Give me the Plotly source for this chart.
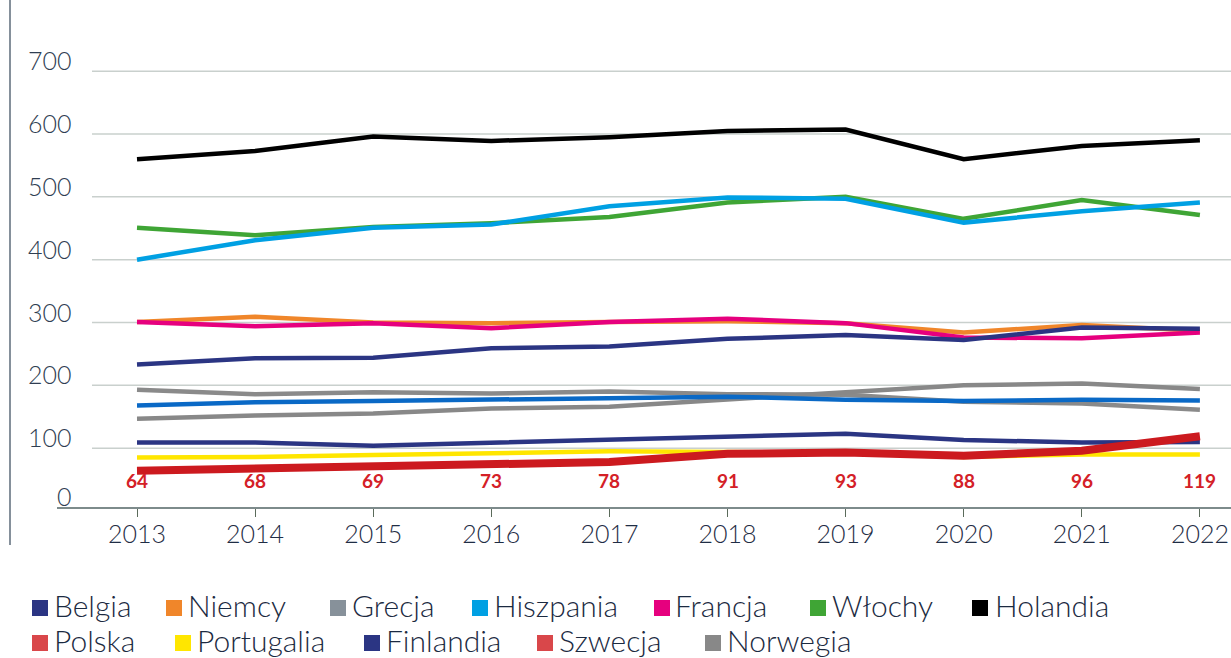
import plotly.graph_objects as go

# ---------------- data ----------------
years = [2013, 2014, 2015, 2016, 2017, 2018, 2019, 2020, 2021, 2022]

belgia     = [233, 243, 244, 259, 262, 274, 280, 272, 292, 290]
niemcy     = [301, 309, 300, 299, 301, 302, 299, 284, 296, 287]
grecja     = [193, 186, 189, 187, 190, 186, 185, 174, 171, 161]
hiszpania  = [400, 431, 451, 456, 485, 499, 497, 459, 477, 491]
francja    = [301, 294, 299, 291, 301, 306, 299, 276, 275, 284]
wlochy     = [451, 439, 452, 458, 468, 491, 500, 465, 495, 471]
holandia   = [560, 573, 596, 589, 595, 605, 607, 560, 581, 590]
polska     = [64, 68, 69, 73, 78, 91, 93, 88, 96, 119]
portugalia = [85, 86, 89, 92, 95, 94, 92, 86, 90, 90]
finlandia  = [109, 109, 104, 109, 114, 119, 123, 113, 109, 110]
szwecja    = [168, 173, 175, 177, 179, 182, 177, 175, 177, 176]
norwegia   = [147, 152, 155, 163, 166, 178, 189, 200, 203, 194]

y_ticks = [0, 100, 200, 300, 400, 500, 600, 700]

# legend: (name, square colour)
legend_row1 = [("Belgia", "#2b3583"), ("Niemcy", "#f0862a"), ("Grecja", "#87919a"),
               ("Hiszpania", "#00a0e3"), ("Francja", "#e6007e"), ("Włochy", "#3fa535"),
               ("Holandia", "#000000")]
legend_row2 = [("Polska", "#d9474a"), ("Portugalia", "#ffe600"), ("Finlandia", "#2b3583"),
               ("Szwecja", "#d9474a"), ("Norwegia", "#888888")]

# ---------------- layout geometry (pixels) ----------------
W, H = 1231, 658
L, R, T, B = 57, 1231, 20, 507
ZERO_PX = 511
PX_PER_UNIT = 0.6283
X_PER_YEAR = 118.1


def px(x):
    return (x - L) / (R - L)


def py(y):
    return (B - y) / (B - T)


y_range = [(ZERO_PX - B) / PX_PER_UNIT, (ZERO_PX - T) / PX_PER_UNIT]
x_range = [2013 - (137 - L) / X_PER_YEAR, 2013 + (R - 137) / X_PER_YEAR]

fig = go.Figure()

series = [
    ("Grecja", grecja, "#8a8a8a", 4.5),
    ("Norwegia", norwegia, "#888888", 4.5),
    ("Szwecja", szwecja, "#0a69c6", 4.5),
    ("Finlandia", finlandia, "#2b3583", 4.5),
    ("Portugalia", portugalia, "#ffe600", 4.5),
    ("Niemcy", niemcy, "#f0862a", 4.5),
    ("Francja", francja, "#e6007e", 4.5),
    ("Belgia", belgia, "#2b3583", 4.5),
    ("Włochy", wlochy, "#3fa535", 4.5),
    ("Hiszpania", hiszpania, "#00a0e3", 4.5),
    ("Holandia", holandia, "#000000", 4.5),
    ("Polska", polska, "#cc1a1f", 8),
]
for name, vals, col, w in series:
    fig.add_trace(go.Scatter(x=years, y=vals, mode="lines", name=name,
                             line=dict(color=col, width=w), showlegend=False,
                             hoverinfo="x+y+name"))

shapes = []
annotations = []

# gridlines
for v in y_ticks[1:]:
    shapes.append(dict(type="line", xref="paper", yref="y", x0=px(92), x1=1, y0=v, y1=v,
                       line=dict(color="#c9d0cd", width=1.5), layer="below"))

# y tick labels
for v in y_ticks:
    gpx = ZERO_PX - v * PX_PER_UNIT if v > 0 else B
    annotations.append(dict(xref="paper", yref="paper", x=px(74), y=py(gpx - 11),
                            xanchor="right", yanchor="middle", showarrow=False,
                            text=str(v),
                            font=dict(family="Lato", size=25, weight=300, color="#2f3e52")))

# Polska value labels
for yr, v in zip(years, polska):
    annotations.append(dict(xref="x", yref="paper", x=yr, y=py(480), xanchor="center",
                            yanchor="middle", showarrow=False, text="<b>%d</b>" % v,
                            font=dict(family="Lato", size=19, color="#d42027")))

# left border line
shapes.append(dict(type="line", xref="paper", yref="paper", x0=px(10), x1=px(10),
                   y0=py(545), y1=py(-5), line=dict(color="#5d6b7a", width=1.5)))

# custom legend
row1_sq = [32, 166, 330, 472, 654, 810, 972]
row1_tx = [52, 186, 350, 492, 673, 830, 993]
row2_sq = [32, 175, 364, 537, 705]
row2_tx = [52, 195, 384, 557, 725]
for items, sqs, txs, ytop in [(legend_row1, row1_sq, row1_tx, 600), (legend_row2, row2_sq, row2_tx, 635)]:
    for (name, col), sx, tx in zip(items, sqs, txs):
        shapes.append(dict(type="rect", xref="paper", yref="paper", x0=px(sx), x1=px(sx + 16),
                           y0=py(ytop + 16), y1=py(ytop), fillcolor=col, line=dict(width=0)))
        annotations.append(dict(xref="paper", yref="paper", x=px(tx), y=py(ytop + 5),
                                xanchor="left", yanchor="middle", showarrow=False, text=name,
                                font=dict(family="Lato", size=30, weight=300, color="#1b2a41")))

fig.update_layout(
    width=W, height=H,
    margin=dict(l=L, r=W - R, t=T, b=H - B),
    paper_bgcolor="white", plot_bgcolor="white",
    showlegend=False,
    shapes=shapes, annotations=annotations,
    xaxis=dict(range=x_range, tickmode="array", tickvals=years,
               ticktext=[str(y) for y in years], showgrid=False, zeroline=False,
               showline=True, linecolor="#7d8b8b", linewidth=2,
               ticks="outside", ticklen=8, tickcolor="#5b6b5b", tickwidth=1.2,
               ticklabelstandoff=-4,
               tickfont=dict(family="Lato", size=25, weight=300, color="#1f2d45")),
    yaxis=dict(range=y_range, visible=False, showgrid=False, zeroline=False),
)

fig.write_html("out.html", config={"displayModeBar": False},
               post_script="document.body.style.margin='0';")
